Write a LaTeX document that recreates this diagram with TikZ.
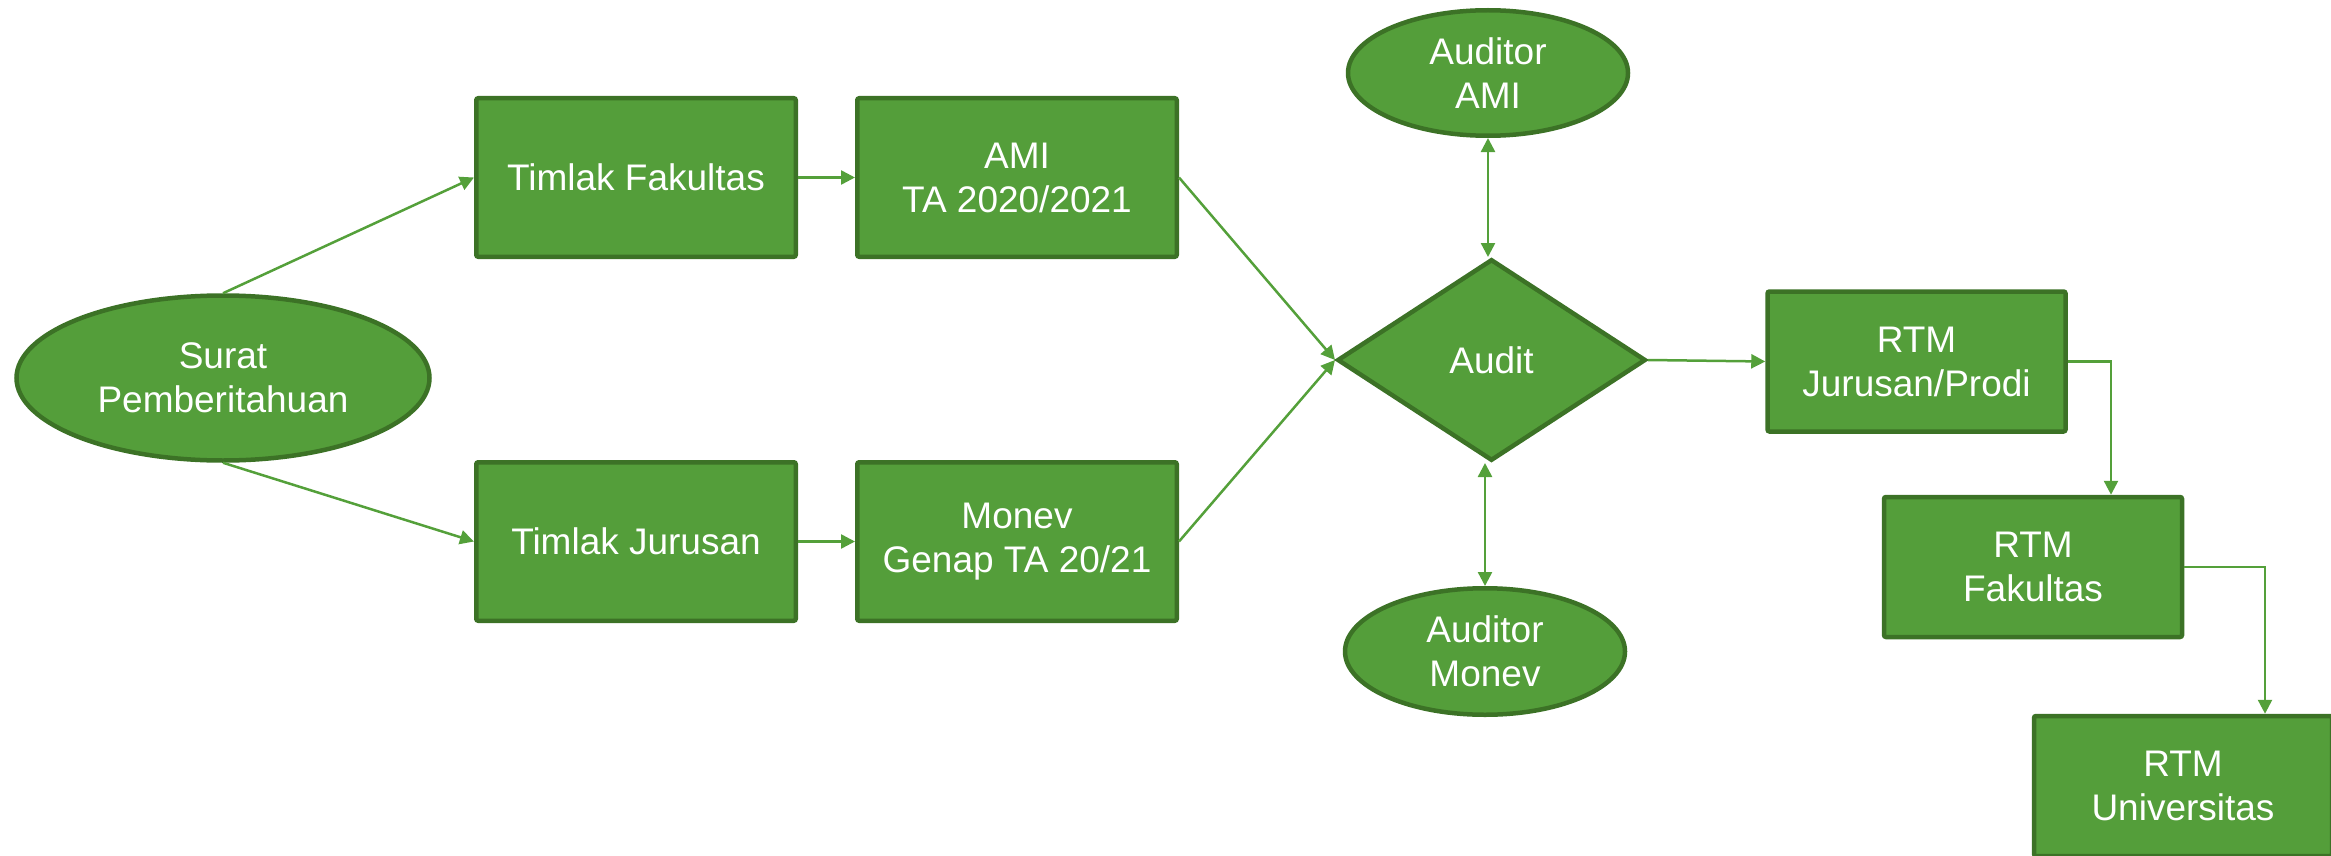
\documentclass[tikz,border=0pt]{standalone}
\usepackage{fontspec}
\setmainfont{Liberation Sans}
\usetikzlibrary{shapes.geometric,arrows.meta}
\definecolor{gfill}{RGB}{84,158,58}
\definecolor{gline}{RGB}{60,114,38}
\definecolor{garrow}{RGB}{84,160,58}
\begin{document}
\begin{tikzpicture}[x=1pt,y=-1pt,
  base/.style={fill=gfill,draw=gline,line width=4.5pt,text=white,
    font=\fontsize{37pt}{44pt}\selectfont,align=center,inner sep=0pt},
  box/.style={base,rectangle,rounded corners=2pt},
  bigbox/.style={box,minimum width=319.5pt,minimum height=158.5pt},
  rtmbox/.style={box,minimum width=298pt,minimum height=140pt},
  oval/.style={base,ellipse},
  dia/.style={base,diamond},
  tip/.tip={Triangle[length=14pt,width=14pt]},
  conn/.style={draw=garrow,line width=2.5pt,-tip},
  conntwo/.style={draw=garrow,line width=2.5pt,tip-tip}]
\useasboundingbox (0,0) rectangle (2331,856);

\node[oval,minimum width=413pt,minimum height=165pt] (sur) at (223,378) {Surat\\Pemberitahuan};
\node[bigbox] (tf) at (636,177.5) {Timlak Fakultas};
\node[bigbox] (ami) at (1017,177.5) {AMI\\TA 2020/2021};
\node[bigbox] (tj) at (636,541.5) {Timlak Jurusan};
\node[bigbox] (mon) at (1017,541.5) {Monev\\Genap TA 20/21};
\node[dia,minimum width=308.5pt,minimum height=201.5pt] (aud) at (1491.5,360) {Audit};
\node[oval,minimum width=280pt,minimum height=125.5pt] (aa) at (1488,73) {Auditor\\AMI};
\node[oval,minimum width=280pt,minimum height=126.5pt] (am) at (1485,651.5) {Auditor\\Monev};
\node[rtmbox] (rj) at (1916.5,361.5) {RTM\\Jurusan/Prodi};
\node[rtmbox] (rf) at (2033,567) {RTM\\Fakultas};
\node[rtmbox] (ru) at (2183,786) {RTM\\Universitas};

\draw[conn] (sur.north) -- (tf.west);
\draw[conn] (sur.south) -- (tj.west);
\draw[conn] (tf) -- (ami);
\draw[conn] (tj) -- (mon);
\draw[conn] (ami.east) -- (aud.west);
\draw[conn] (mon.east) -- (aud.west);
\draw[conntwo] (aa.south) -- (aa.south |- aud.north);
\draw[conntwo] (am.north |- aud.south) -- (am.north);
\draw[conn] (aud.east) -- (rj.west);
\draw[conn] (rj.east) -| ([xshift=78pt]rf.north);
\draw[conn] (rf.east) -| ([xshift=82pt]ru.north);
\end{tikzpicture}
\end{document}
